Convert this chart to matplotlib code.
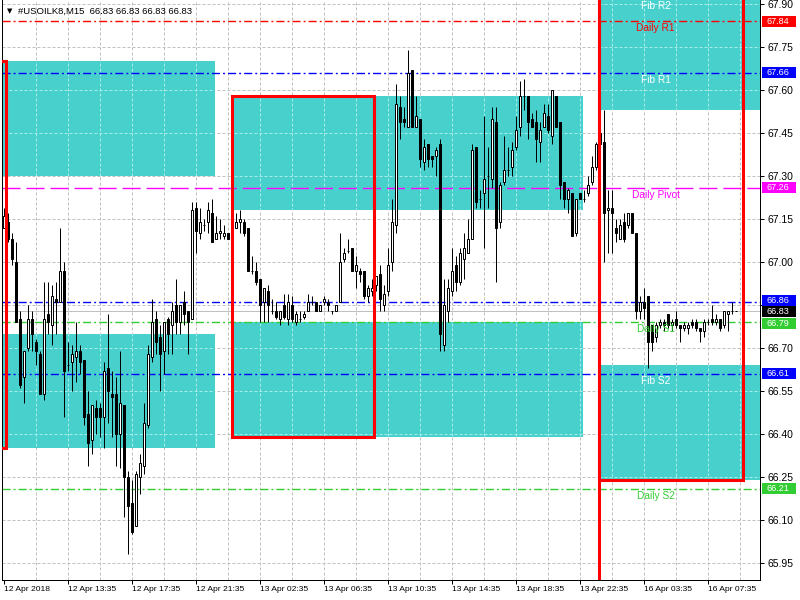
import matplotlib
matplotlib.use('Agg')
import matplotlib.pyplot as plt
import matplotlib.transforms as mtransforms
from matplotlib.patches import Rectangle
from matplotlib.path import Path
from matplotlib.collections import LineCollection
import numpy as np

plt.rcParams['font.family'] = ['Liberation Sans', 'DejaVu Sans']

# M15 candles, #USOILK8
opens = [67.12, 67.14, 67.08, 67.00, 66.80, 66.60, 66.70, 66.80, 66.72, 66.68,
         66.54, 66.82, 66.78, 66.87, 66.86, 66.97, 66.64, 66.65, 66.67, 66.69,
         66.66, 66.47, 66.38, 66.49, 66.49, 66.46, 66.63, 66.54, 66.54, 66.40,
         66.50, 66.25, 66.16, 66.08, 66.25, 66.29, 66.43, 66.67, 66.80, 66.74,
         66.69, 66.80, 66.78, 66.85, 66.79, 66.86, 66.83, 66.80, 67.19, 67.10,
         67.13, 67.14, 67.17, 67.08, 67.10, 67.09, 67.10, 67.09, 67.12, 67.14,
         67.14, 67.12, 66.97, 66.97, 66.94, 66.86, 66.90, 66.83, 66.83, 66.80,
         66.85, 66.80, 66.85, 66.79, 66.80, 66.81, 66.83, 66.86, 66.86, 66.83,
         66.86, 66.86, 66.83, 66.83, 66.86, 67.01, 67.04, 67.05, 66.97, 66.97,
         66.97, 66.88, 66.90, 66.92, 66.96, 66.85, 66.90, 67.00, 67.13, 67.54,
         67.50, 67.47, 67.67, 67.47, 67.50, 67.35, 67.41, 67.37, 67.37, 67.41,
         66.71, 66.83, 66.90, 66.99, 66.93, 67.01, 67.03, 67.08, 67.40, 67.22,
         67.24, 67.30, 67.29, 67.49, 67.14, 67.28, 67.32, 67.33, 67.40, 67.47,
         67.58, 67.58, 67.50, 67.49, 67.42, 67.47, 67.51, 67.44, 67.58, 67.49,
         67.28, 67.22, 67.24, 67.10, 67.24, 67.22, 67.24, 67.28, 67.33, 67.41,
         67.42, 67.18, 67.19, 67.12, 67.08, 67.14, 67.13, 67.17, 67.10, 66.83,
         66.86, 66.88, 66.78, 66.74, 66.78, 66.79, 66.82, 66.78, 66.80, 66.78,
         66.77, 66.77, 66.79, 66.79, 66.77, 66.76, 66.79, 66.80, 66.79, 66.80,
         66.78, 66.82, 66.83, 66.83]
highs = [67.19, 67.17, 67.10, 67.07, 66.83, 66.69, 66.85, 66.83, 66.73, 66.69,
         66.93, 66.93, 66.92, 66.93, 67.12, 67.00, 66.72, 66.71, 66.79, 66.71,
         66.66, 66.55, 66.50, 66.52, 66.51, 66.65, 66.82, 66.62, 66.60, 66.69,
         66.50, 66.27, 66.24, 66.27, 66.33, 66.51, 66.71, 66.87, 66.83, 66.78,
         66.79, 66.81, 66.86, 66.94, 66.85, 66.90, 66.83, 67.21, 67.21, 67.19,
         67.15, 67.21, 67.22, 67.16, 67.15, 67.13, 67.10, 67.13, 67.17, 67.18,
         67.15, 67.12, 67.02, 67.00, 66.94, 66.91, 66.92, 66.87, 66.86, 66.83,
         66.89, 66.89, 66.88, 66.83, 66.83, 66.83, 66.89, 66.88, 66.86, 66.85,
         66.88, 66.87, 66.83, 66.85, 67.10, 67.05, 67.08, 67.05, 67.02, 66.98,
         66.97, 66.92, 66.94, 66.95, 66.99, 66.92, 67.05, 67.22, 67.62, 67.58,
         67.54, 67.74, 67.67, 67.58, 67.50, 67.43, 67.41, 67.37, 67.40, 67.43,
         66.94, 66.94, 67.05, 67.02, 67.05, 67.10, 67.15, 67.41, 67.40, 67.25,
         67.51, 67.40, 67.54, 67.54, 67.28, 67.44, 67.40, 67.42, 67.51, 67.63,
         67.64, 67.58, 67.52, 67.53, 67.49, 67.55, 67.55, 67.60, 67.58, 67.49,
         67.28, 67.26, 67.24, 67.22, 67.24, 67.25, 67.30, 67.37, 67.42, 67.45,
         67.53, 67.25, 67.25, 67.15, 67.15, 67.17, 67.17, 67.17, 67.10, 66.88,
         66.91, 66.88, 66.78, 66.79, 66.80, 66.80, 66.82, 66.80, 66.83, 66.78,
         66.79, 66.79, 66.80, 66.80, 66.77, 66.80, 66.80, 66.85, 66.82, 66.80,
         66.83, 66.83, 66.86, 66.83]
lows = [67.12, 67.07, 66.99, 66.79, 66.56, 66.51, 66.69, 66.69, 66.64, 66.54,
        66.52, 66.75, 66.71, 66.75, 66.86, 66.46, 66.62, 66.55, 66.58, 66.61,
        66.43, 66.29, 66.33, 66.40, 66.39, 66.35, 66.44, 66.39, 66.29, 66.28,
        66.11, 65.98, 66.05, 66.08, 66.19, 66.26, 66.42, 66.65, 66.68, 66.55,
        66.61, 66.68, 66.68, 66.75, 66.75, 66.78, 66.68, 66.80, 67.03, 67.08,
        67.11, 67.10, 67.07, 67.08, 67.08, 67.08, 67.08, 67.08, 67.12, 67.10,
        67.09, 66.97, 66.96, 66.92, 66.79, 66.79, 66.79, 66.82, 66.80, 66.78,
        66.80, 66.78, 66.79, 66.78, 66.79, 66.80, 66.83, 66.85, 66.83, 66.83,
        66.85, 66.83, 66.82, 66.83, 66.86, 67.00, 67.03, 66.97, 66.91, 66.93,
        66.87, 66.86, 66.88, 66.90, 66.83, 66.83, 66.88, 66.97, 67.10, 67.43,
        67.47, 67.47, 67.47, 67.47, 67.33, 67.32, 67.33, 67.33, 67.30, 66.69,
        66.69, 66.79, 66.88, 66.90, 66.92, 66.94, 67.03, 67.08, 67.19, 67.19,
        67.05, 67.19, 67.26, 66.93, 67.12, 67.27, 67.30, 67.30, 67.39, 67.44,
        67.53, 67.43, 67.47, 67.35, 67.35, 67.47, 67.45, 67.41, 67.47, 67.22,
        67.19, 67.17, 67.09, 67.09, 67.22, 67.21, 67.23, 67.27, 67.32, 67.38,
        67.00, 67.03, 67.03, 67.07, 67.08, 67.07, 67.12, 67.10, 66.80, 66.80,
        66.80, 66.63, 66.69, 66.72, 66.77, 66.76, 66.77, 66.76, 66.77, 66.72,
        66.76, 66.75, 66.77, 66.76, 66.72, 66.74, 66.78, 66.78, 66.78, 66.76,
        66.77, 66.76, 66.82, 66.83]
closes = [67.16, 67.08, 67.01, 66.79, 66.57, 66.69, 66.80, 66.75, 66.69, 66.54,
          66.80, 66.79, 66.88, 66.86, 66.97, 66.62, 66.64, 66.68, 66.69, 66.65,
          66.46, 66.37, 66.50, 66.46, 66.46, 66.62, 66.55, 66.53, 66.40, 66.51,
          66.25, 66.15, 66.06, 66.26, 66.30, 66.44, 66.68, 66.79, 66.72, 66.68,
          66.79, 66.75, 66.83, 66.79, 66.85, 66.82, 66.79, 67.18, 67.11, 67.14,
          67.13, 67.18, 67.07, 67.10, 67.11, 67.10, 67.08, 67.12, 67.14, 67.15,
          67.10, 66.97, 66.97, 66.93, 66.85, 66.91, 66.85, 66.83, 66.81, 66.83,
          66.81, 66.86, 66.80, 66.82, 66.80, 66.82, 66.86, 66.86, 66.83, 66.85,
          66.87, 66.85, 66.83, 66.85, 67.00, 67.03, 67.04, 66.97, 66.99, 66.96,
          66.88, 66.91, 66.91, 66.95, 66.87, 66.89, 66.99, 67.14, 67.55, 67.49,
          67.49, 67.66, 67.47, 67.51, 67.36, 67.40, 67.36, 67.36, 67.39, 66.75,
          66.85, 66.91, 66.97, 66.93, 67.03, 67.05, 67.08, 67.39, 67.21, 67.22,
          67.29, 67.30, 67.50, 67.12, 67.27, 67.32, 67.32, 67.39, 67.46, 67.58,
          67.58, 67.49, 67.47, 67.43, 67.46, 67.52, 67.46, 67.60, 67.47, 67.27,
          67.22, 67.25, 67.09, 67.22, 67.22, 67.22, 67.27, 67.33, 67.41, 67.45,
          67.17, 67.19, 67.17, 67.10, 67.13, 67.08, 67.17, 67.10, 66.83, 66.86,
          66.84, 66.72, 66.72, 66.78, 66.79, 66.78, 66.78, 66.79, 66.78, 66.77,
          66.78, 66.78, 66.78, 66.77, 66.76, 66.79, 66.79, 66.79, 66.80, 66.77,
          66.83, 66.83, 66.83, 66.83]

time_labels = ['12 Apr 2018', '12 Apr 13:35', '12 Apr 17:35', '12 Apr 21:35',
               '13 Apr 02:35', '13 Apr 06:35', '13 Apr 10:35', '13 Apr 14:35',
               '13 Apr 18:35', '13 Apr 22:35', '16 Apr 03:35', '16 Apr 07:35']

# pivot / fib levels
level_names = ['Fib R2', 'Daily R1', 'Fib R1', 'Daily Pivot', 'Fib S1',
               'Daily S1', 'Fib S2', 'Daily S2']
level_prices = [67.92, 67.84, 67.66, 67.26, 66.86, 66.79, 66.61, 66.21]
level_colors = ['#0000FF', '#FF0000', '#0000FF', '#FF00FF', '#0000FF',
                '#32CD32', '#0000FF', '#32CD32']
level_text_colors = ['white', '#FF0000', 'white', '#FF00FF', None,
                     '#32CD32', 'white', '#32CD32']
current_price = 66.83

# zone boxes (bar index from/to, price low/high)
zone_x0 = [-2, -2, 56.9, 56.9, 148.6, 148.6]
zone_x1 = [52.9, 52.9, 144.9, 144.9, 195, 195]
zone_lo = [67.30, 66.35, 67.18, 66.39, 67.53, 66.24]
zone_hi = [67.70, 66.75, 67.58, 66.79, 68.30, 66.64]

# red session frames
frame_x0 = [-4, 57.1, 148.9]
frame_x1 = [0.5, 92.6, 184.9]
frame_lo = [66.35, 66.39, 66.24]
frame_hi = [67.70, 67.58, 68.30]

CYAN = '#48D1CC'
GRID = '#C0C0C0'
PX = 0.72  # one pixel in points

n = len(closes)
x = np.arange(n)

fig = plt.figure(figsize=(8, 6), dpi=100)
ax = fig.add_axes([2 / 800, 20 / 600, 758 / 800, 580 / 600])
ax.set_xlim(-0.375, 189.125)
ax.set_ylim(65.891, 67.914)
data_per_px = (67.914 - 65.891) / 580

yticks = np.round(np.arange(65.95, 67.91, 0.15), 2)
xticks = np.arange(0, 177, 16)

# grid
vgrid = np.arange(8, 190, 8)
gstyle = (0, (3, 2))
for g in vgrid:
    ax.axvline(g, color=GRID, lw=PX, ls=gstyle, zorder=0.5)
for g in yticks:
    ax.axhline(g, color=GRID, lw=PX, ls=gstyle, zorder=0.5)

# zones
rects = []
for x0, x1, lo, hi in zip(zone_x0, zone_x1, zone_lo, zone_hi):
    ax.add_patch(Rectangle((x0, lo), x1 - x0, hi - lo, fc=CYAN, ec='none', zorder=1))
    rects.append(Path([(x0, lo), (x1, lo), (x1, hi), (x0, hi), (x0, lo)],
                      [Path.MOVETO, Path.LINETO, Path.LINETO, Path.LINETO, Path.CLOSEPOLY]))
# grid shows lighter where it crosses a zone
clip = Path.make_compound_path(*rects)
segs = [[(g, 65.0), (g, 69.0)] for g in vgrid] + [[(-5, g), (200, g)] for g in yticks]
lc = LineCollection(segs, colors='#A6ECE8', linewidths=PX, linestyles=gstyle, zorder=1.2)
ax.add_collection(lc)
lc.set_clip_path(clip, ax.transData)

# level lines (lw 1pt, dash lengths given so they come out in whole pixels)
ax.axhline(current_price, color=GRID, lw=PX, zorder=2)
for name, p, c, tc in zip(level_names, level_prices, level_colors, level_text_colors):
    ls = (0, (13, 4.3)) if name == 'Daily Pivot' else (0, (5.8, 2.2, 1.4, 2.2))
    ax.axhline(p, color=c, lw=1.0, ls=ls, zorder=2.2)
    if tc is not None:
        ax.annotate(name, (163, p), xytext=(0, -5.2), textcoords='offset points',
                    ha='center', va='center', color=tc, fontsize=7.3, zorder=6,
                    annotation_clip=False)

# candles
up = np.array(closes) >= np.array(opens)
body_lo = np.minimum(opens, closes)
body_h = np.abs(np.array(closes) - np.array(opens))
ax.vlines(x, lows, highs, color='black', lw=PX, zorder=3)
ax.bar(x, body_h, bottom=body_lo, width=0.5, color=np.where(up, 'white', 'black'),
       edgecolor='black', linewidth=PX, zorder=4)

# session frames
for x0, x1, lo, hi in zip(frame_x0, frame_x1, frame_lo, frame_hi):
    ax.add_patch(Rectangle((x0, lo), x1 - x0, hi - lo, fill=False, ec='#FF0000',
                           lw=2.2, zorder=5))
ax.axvline(frame_x0[2], color='#FF0000', lw=2.2, zorder=5)

# axes look
ax.spines['top'].set_visible(False)
for s in ['left', 'right', 'bottom']:
    ax.spines[s].set_linewidth(PX)
ax.yaxis.tick_right()
ax.set_yticks(yticks)
# 66.85 sits under the price tags, so its label is left blank
ax.set_yticklabels(['' if v == 66.85 else '%.2f' % v for v in yticks], fontsize=7.5)
ax.set_xticks(xticks)
ax.set_xticklabels(time_labels, ha='left', fontsize=6.1)
ax.tick_params(axis='y', length=3, width=PX, pad=2.5)
ax.tick_params(axis='x', length=3, width=PX, pad=1)

# price tags on the right, stacked where they crowd (shift in px, down)
tr = mtransforms.blended_transform_factory(ax.transAxes, ax.transData)
tag_prices = level_prices[1:] + [current_price]
tag_colors = level_colors[1:] + ['black']
tag_shift = {66.86: -1.7, 66.83: 1.2, 66.79: 1.3}
for p, c in zip(tag_prices, tag_colors):
    s = tag_shift.get(p, 0.0)
    yc = p - s * data_per_px
    ax.add_patch(Rectangle((1.0026, yc - 5.5 * data_per_px), 34 / 758,
                           11 * data_per_px, transform=tr, fc=c, ec='none',
                           clip_on=False, zorder=6.5))
    ax.annotate('%.2f' % p, (1.0, yc), xycoords=tr, xytext=(5.0, 0),
                textcoords='offset points', color='white', fontsize=6.5,
                ha='left', va='center', zorder=7, annotation_clip=False)

# header
fig.text(7 / 800, 1 - 11 / 600, '\u25bc', fontsize=5, va='center', ha='left',
         family='DejaVu Sans')
fig.text(18 / 800, 1 - 11 / 600, '#USOILK8,M15  66.83 66.83 66.83 66.83',
         fontsize=6.8, va='center', ha='left')

fig.savefig('out.png', dpi=100)
